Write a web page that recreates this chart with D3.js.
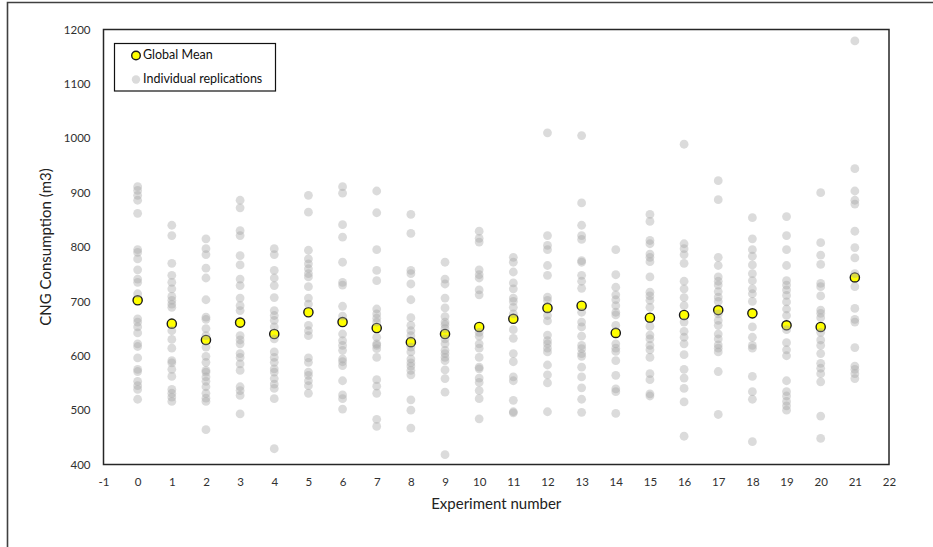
<!DOCTYPE html>
<html>
<head>
<meta charset="utf-8">
<script src="https://cdn.jsdelivr.net/npm/d3@7"></script>
<style>
  html, body { margin: 0; padding: 0; background: #fff; }
  svg { display: block; font-family: Lato, "Open Sans", sans-serif; }
</style>
</head>
<body>
<svg id="chart" width="933" height="547"></svg>
<script>
// ---- data ----
const experiments = [0,1,2,3,4,5,6,7,8,9,10,11,12,13,14,15,16,17,18,19,20,21];
const globalMean = [702,659,629,661,640,680,662,651,625,640,653,668,688,692,642,670,675,684,678,656,653,744];
const replications = [
  [911,904,895,886,862,795,790,778,758,741,735,714,668,662,653,642,622,617,596,575,571,553,545,538,520],
  [840,821,770,748,735,723,709,702,695,689,646,630,614,591,587,575,562,538,531,524,516],
  [815,797,786,761,743,703,671,667,650,637,616,599,588,573,570,561,553,543,531,522,516,464],
  [886,872,830,821,784,767,741,729,706,692,683,637,629,622,604,597,585,573,543,536,527,493],
  [797,786,757,743,729,707,683,674,665,653,631,607,597,588,576,570,558,548,540,521,429],
  [895,864,794,778,769,760,751,745,727,706,695,656,646,637,596,588,570,564,554,545,531],
  [911,899,841,818,772,735,730,691,673,640,628,619,610,594,589,582,554,528,521,502],
  [903,863,795,757,738,686,677,669,662,634,622,619,613,597,556,544,531,483,470],
  [860,825,757,751,732,703,670,656,646,637,616,607,594,587,581,573,565,519,500,467],
  [772,741,732,706,688,672,662,657,650,631,622,610,604,597,591,574,558,533,418],
  [829,816,809,758,749,743,721,712,643,636,622,614,597,579,576,559,551,536,521,484],
  [781,772,754,734,723,706,700,689,677,648,632,604,589,561,554,518,497,495],
  [1010,821,803,795,766,748,708,702,674,664,638,628,622,614,607,583,565,550,497],
  [1005,881,840,821,814,775,772,748,737,724,680,662,653,636,619,613,604,599,579,561,541,520,496],
  [795,749,726,712,703,692,680,675,656,622,614,608,591,564,539,534,494],
  [860,847,812,806,787,781,773,745,717,710,702,689,654,638,631,619,611,597,567,556,530,526],
  [989,786,806,797,770,737,723,707,692,662,645,634,622,602,575,559,540,515,452],
  [922,887,781,766,745,737,730,718,708,700,677,665,656,640,631,620,614,607,571,492],
  [854,815,795,783,767,751,738,723,714,700,653,634,619,614,562,534,520,442],
  [856,821,795,766,738,730,721,711,699,686,674,648,624,611,600,554,534,526,516,508,500],
  [900,808,785,768,733,727,710,684,678,670,643,629,619,604,586,577,567,552,489,448],
  [1179,944,903,886,879,829,799,780,751,727,687,667,662,615,581,575,567,558]
];
const xTicks = [-1,0,1,2,3,4,5,6,7,8,9,10,11,12,13,14,15,16,17,18,19,20,21,22];
const yTicks = [400,500,600,700,800,900,1000,1100,1200];
const legendLabels = ["Global Mean", "Individual replications"];
const yTitle = "CNG Consumption (m3)";
const xTitle = "Experiment number";

// ---- layout ----
const svg = d3.select("#chart");
const plot = { left: 103.5, right: 889, top: 29.5, bottom: 464.5 };

const x = d3.scaleLinear().domain([-1, 22]).range([plot.left, plot.right]);
const y = d3.scaleLinear().domain([400, 1200]).range([plot.bottom, plot.top]);

// outer frame (left and top edges visible)
svg.append("path")
  .attr("d", "M7.5,560 L7.5,2.5 L940,2.5")
  .attr("fill", "none").attr("stroke", "#404040").attr("stroke-width", 1.6);

// axes
const xAxis = svg.append("g")
  .attr("transform", `translate(0,${plot.bottom})`)
  .call(d3.axisBottom(x).tickValues(xTicks).tickSize(0).tickPadding(13).tickFormat(d => String(d)));
xAxis.select(".domain").remove();
xAxis.selectAll("text").attr("font-size", 11.5).attr("fill", "#303030").attr("font-family", "Lato, sans-serif");

const yAxis = svg.append("g")
  .attr("transform", `translate(${plot.left},0)`)
  .call(d3.axisLeft(y).tickValues(yTicks).tickSize(0).tickPadding(13).tickFormat(d => String(d)));
yAxis.select(".domain").remove();
yAxis.selectAll("text").attr("font-size", 11.5).attr("fill", "#303030").attr("font-family", "Lato, sans-serif");

// axis titles
svg.append("text")
  .attr("transform", `translate(47,${(plot.top + plot.bottom) / 2}) rotate(-90)`)
  .attr("text-anchor", "middle").attr("dominant-baseline", "middle")
  .attr("font-size", 15).attr("fill", "#222").text(yTitle);
svg.append("text")
  .attr("x", (plot.left + plot.right) / 2).attr("y", 505)
  .attr("text-anchor", "middle").attr("dominant-baseline", "middle")
  .attr("font-size", 15).attr("fill", "#222").text(xTitle);

// global means (drawn beneath replications)
svg.append("g").selectAll("circle")
  .data(experiments.map((e, i) => ({ e, v: globalMean[i] })))
  .join("circle")
  .attr("cx", d => x(d.e)).attr("cy", d => y(d.v)).attr("r", 4.6)
  .attr("fill", "#ffff00").attr("stroke", "#1a1a1a").attr("stroke-width", 1.4);

// individual replications
const reps = [];
experiments.forEach((e, i) => replications[i].forEach(v => reps.push({ e, v })));
svg.append("g").selectAll("circle")
  .data(reps)
  .join("circle")
  .attr("cx", d => x(d.e)).attr("cy", d => y(d.v)).attr("r", 4.4)
  .attr("fill", "#a6a6a6").attr("fill-opacity", 0.4);

// plot border
svg.append("rect")
  .attr("x", plot.left).attr("y", plot.top)
  .attr("width", plot.right - plot.left).attr("height", plot.bottom - plot.top)
  .attr("fill", "none").attr("stroke", "#262626").attr("stroke-width", 1.5);

// legend
const lg = svg.append("g");
lg.append("rect")
  .attr("x", 114.5).attr("y", 43.5).attr("width", 161).attr("height", 47.5)
  .attr("fill", "#fff").attr("stroke", "#111").attr("stroke-width", 1.2);
lg.append("circle").attr("cx", 136).attr("cy", 55.5).attr("r", 4.3)
  .attr("fill", "#ffff00").attr("stroke", "#1a1a1a").attr("stroke-width", 1.4);
lg.append("circle").attr("cx", 136).attr("cy", 79.5).attr("r", 4.2)
  .attr("fill", "#a6a6a6").attr("fill-opacity", 0.4);
lg.selectAll("text.leg").data(legendLabels).join("text")
  .attr("class", "leg")
  .attr("x", 143).attr("y", (d, i) => 55.5 + i * 24)
  .attr("dominant-baseline", "middle")
  .attr("font-size", 12.5).attr("fill", "#111").text(d => d);
</script>
</body>
</html>
